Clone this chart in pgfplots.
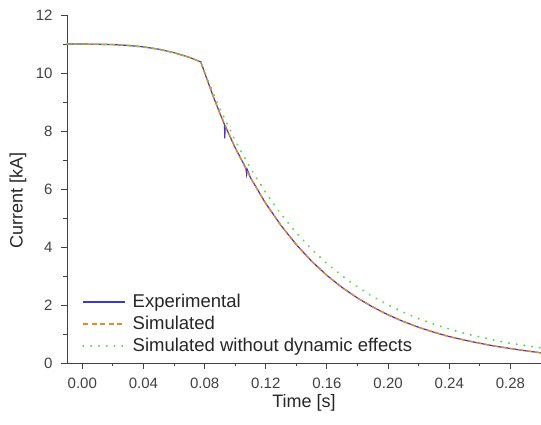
\documentclass[border=0pt]{standalone}
\usepackage{pgfplots}
\pgfplotsset{compat=1.18}
\usepackage{fontspec}
\setmainfont{Liberation Sans}

\definecolor{expblue}{RGB}{60,55,205}
\definecolor{simorange}{RGB}{235,135,35}
\definecolor{nodyngreen}{RGB}{85,220,75}
\definecolor{axgray}{RGB}{65,65,65}

\begin{document}
\begin{tikzpicture}
\begin{axis}[
  scale only axis,
  width=474pt, height=348pt,
  xmin=-0.01, xmax=0.30,
  ymin=0, ymax=12,
  axis x line=bottom, axis y line=left,
  axis line style={-, axgray, line width=0.9pt},
  xtick={0,0.04,...,0.28},
  minor xtick={0.02,0.06,...,0.30},
  ytick={0,2,...,12},
  minor ytick={1,3,...,11},
  tick align=outside,
  major tick length=6pt, minor tick length=3.5pt,
  tick style={axgray, line width=0.9pt},
  /pgf/number format/assume math mode=true,
  tick label style={font=\fontsize{15}{17}\selectfont, text=axgray},
  yticklabel style={xshift=-5pt},
  xticklabel style={yshift=-5pt, /pgf/number format/fixed,
    /pgf/number format/fixed zerofill, /pgf/number format/precision=2},
  xlabel={Time [s]}, ylabel={Current [kA]},
  every axis x label/.style={at={(rel axis cs:0.5,0)}, anchor=base, yshift=-45pt,
    font=\fontsize{18}{20}\selectfont, text=black!85},
  every axis y label/.style={at={(rel axis cs:0,0.468)}, xshift=-49pt, rotate=90, anchor=center,
    font=\fontsize{18}{20}\selectfont, text=black!85},
  legend style={draw=none, fill=none, at={(rel axis cs:0,0)}, anchor=south west,
    xshift=15pt, yshift=8pt, inner sep=0pt,
    font=\fontsize{18.5}{20}\selectfont, text=black!85, row sep=4pt, column sep=5pt,
    nodes={inner sep=1.5pt}},
  legend cell align=left,
  legend image code/.code={\draw[#1] (0pt,0pt) -- (42pt,0pt);},
  clip=false,
]
\addplot[expblue, line width=1.2pt] coordinates {
(-0.01,11.00) (0.00,11.00) (0.01,10.99) (0.02,10.98) (0.03,10.95) (0.04,10.90)
(0.05,10.82) (0.06,10.70) (0.07,10.54) (0.0775,10.38)
(0.085,9.28) (0.09,8.61) (0.093,8.22) (0.0932,7.75) (0.0934,8.18)
(0.10,7.42) (0.107,6.72) (0.1075,6.50) (0.108,6.66) (0.11,6.39) (0.12,5.50) (0.13,4.74) (0.14,4.08)
(0.15,3.51) (0.16,3.02) (0.17,2.60) (0.18,2.24) (0.19,1.93) (0.20,1.66)
(0.21,1.43) (0.22,1.23) (0.23,1.06) (0.24,0.91) (0.25,0.79) (0.26,0.68)
(0.27,0.58) (0.28,0.50) (0.29,0.42) (0.30,0.35)
};
\addlegendentry{Experimental}
\addplot[simorange, line width=1.4pt, dash pattern=on 5pt off 3.5pt] coordinates {
(-0.01,11.00) (0.00,11.00) (0.01,10.99) (0.02,10.98) (0.03,10.95) (0.04,10.90)
(0.05,10.82) (0.06,10.70) (0.07,10.54) (0.0775,10.38)
(0.085,9.28) (0.09,8.61) (0.10,7.42) (0.11,6.39) (0.12,5.50) (0.13,4.74) (0.14,4.08)
(0.15,3.51) (0.16,3.02) (0.17,2.60) (0.18,2.24) (0.19,1.93) (0.20,1.66)
(0.21,1.43) (0.22,1.23) (0.23,1.06) (0.24,0.91) (0.25,0.79) (0.26,0.68)
(0.27,0.58) (0.28,0.50) (0.29,0.42) (0.30,0.35)
};
\addlegendentry{Simulated}
\addplot[nodyngreen, line width=2pt, line cap=round, dash pattern=on 0.3pt off 7.5pt] coordinates {
(-0.01,11.00) (0.00,11.00) (0.01,10.99) (0.02,10.98) (0.03,10.95) (0.04,10.90)
(0.05,10.82) (0.06,10.70) (0.07,10.54) (0.0775,10.38)
(0.085,9.39) (0.09,8.78) (0.10,7.67) (0.11,6.71) (0.12,5.87) (0.13,5.13) (0.14,4.49)
(0.15,3.92) (0.16,3.43) (0.17,3.00) (0.18,2.62) (0.19,2.29) (0.20,2.00)
(0.21,1.75) (0.22,1.53) (0.23,1.34) (0.24,1.17) (0.25,1.02) (0.26,0.90)
(0.27,0.78) (0.28,0.68) (0.29,0.60) (0.30,0.52)
};
\addlegendentry{Simulated without dynamic effects}
\end{axis}
\pgfresetboundingbox
\path[use as bounding box] ([xshift=-67pt,yshift=-62pt]current axis.south west)
  rectangle ([yshift=15pt]current axis.north east);
\end{tikzpicture}
\end{document}
